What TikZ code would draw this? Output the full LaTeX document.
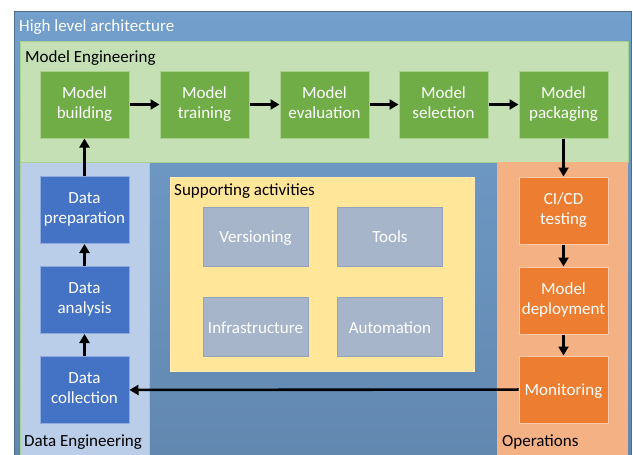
\documentclass[tikz,border=0pt]{standalone}
\usepackage{fontspec}
\setmainfont{Carlito}
\usetikzlibrary{arrows.meta}
\definecolor{outerTop}{HTML}{729FCC}
\definecolor{outerBot}{HTML}{6288B0}
\definecolor{meFill}{HTML}{C5E0B4}
\definecolor{meLine}{HTML}{A9D18E}
\definecolor{meBox}{HTML}{70AD47}
\definecolor{deFill}{HTML}{BACEEA}
\definecolor{deBox}{HTML}{4472C4}
\definecolor{deLine}{HTML}{8FAADC}
\definecolor{saFill}{HTML}{FFE699}
\definecolor{saLine}{HTML}{FFEBB3}
\definecolor{saBox}{HTML}{A7B5CB}
\definecolor{saBoxLine}{HTML}{93A3BC}
\definecolor{opFill}{HTML}{F4B183}
\definecolor{opBox}{HTML}{ED7D31}
\definecolor{opLine}{HTML}{F8CBAD}
% fixed line extents so every label sits at the same height
\newcommand\topstrut{\rule{0pt}{15.5pt}}
\newcommand\botstrut{\rule[-3.5pt]{0pt}{3.5pt}}
\tikzset{
  lbl/.style={font=\fontsize{17}{20}\selectfont, align=center, text=white,
    execute at begin node=\topstrut, execute at end node=\botstrut},
  ttl/.style={font=\fontsize{17}{20}\selectfont, anchor=base west, inner sep=0pt},
  stepbox/.style={lbl, inner sep=0pt, minimum width=89pt, minimum height=67pt, line width=1pt},
  mebox/.style={stepbox, fill=meBox, draw=meLine},
  debox/.style={stepbox, fill=deBox, draw=deLine},
  opbox/.style={stepbox, fill=opBox, draw=opLine},
  sabox/.style={lbl, inner sep=0pt, minimum width=105pt, minimum height=59pt, fill=saBox, draw=saBoxLine, line width=1pt},
  flow/.style={line width=2.6pt, -{Triangle[length=9pt,width=10pt]}},
}
\begin{document}
\begin{tikzpicture}[x=1pt, y=-1pt]
\useasboundingbox (0,0) rectangle (633,455);
\fill[white] (0,0) rectangle (633,455);

% outer frame
\shade[top color=outerTop, bottom color=outerBot, draw=outerBot!80!black, line width=0.6pt]
  (14,11) rectangle (631,455);
\node[ttl, text=white] (hla) at (19,31) {High level architecture};

% main areas
\fill[meFill, draw=meLine, line width=0.8pt] (20,41) rectangle (628,162);
\node[ttl] (me) at (25,62) {Model Engineering};

\fill[deFill, draw=meLine, line width=0.8pt] (20,162) rectangle (149,455);
\node[ttl] (de) at (24,446) {Data Engineering};

\fill[opFill] (497,162) rectangle (628,455);
\node[ttl] (op) at (502,446) {Operations};

\fill[saFill, draw=saLine, line width=1pt] (170,177) rectangle (474,371);
\node[ttl] (sa) at (174,195) {Supporting activities};

% model engineering steps
\node[mebox] (mb) at (84.5,104.5) {Model\\building};
\node[mebox] (mt) at (204.5,104.5) {Model\\training};
\node[mebox] (mv) at (324.5,104.5) {Model\\evaluation};
\node[mebox] (ms) at (443.5,104.5) {Model\\selection};
\node[mebox] (mp) at (563.5,104.5) {Model\\packaging};

% data engineering steps
\node[debox] (dp) at (84.5,210) {Data\\preparation};
\node[debox] (da) at (84.5,300) {Data\\analysis};
\node[debox] (dc) at (84.5,390) {Data\\collection};

% operations steps
\node[opbox] (ci) at (563.5,210.5) {CI/CD\\testing};
\node[opbox] (md) at (563.5,300.5) {Model\\deployment};
\node[opbox] (mo) at (563.5,389.5) {Monitoring};

% supporting activities
\node[sabox] (ver) at (255.5,236.5) {Versioning};
\node[sabox] (tls) at (390,236.5) {Tools};
\node[sabox] (inf) at (255.5,327) {Infrastructure};
\node[sabox] (aut) at (390,327) {Automation};

% flow connectors
\draw[flow] (mb) -- (mt);
\draw[flow] (mt) -- (mv);
\draw[flow] (mv) -- (ms);
\draw[flow] (ms) -- (mp);
\draw[flow] (mp) -- (ci);
\draw[flow] (ci) -- (md);
\draw[flow] (md) -- (mo);
\draw[flow] (mo) -- (dc);
\draw[flow] (dc) -- (da);
\draw[flow] (da) -- (dp);
\draw[flow] (dp) -- (mb);
\end{tikzpicture}
\end{document}
